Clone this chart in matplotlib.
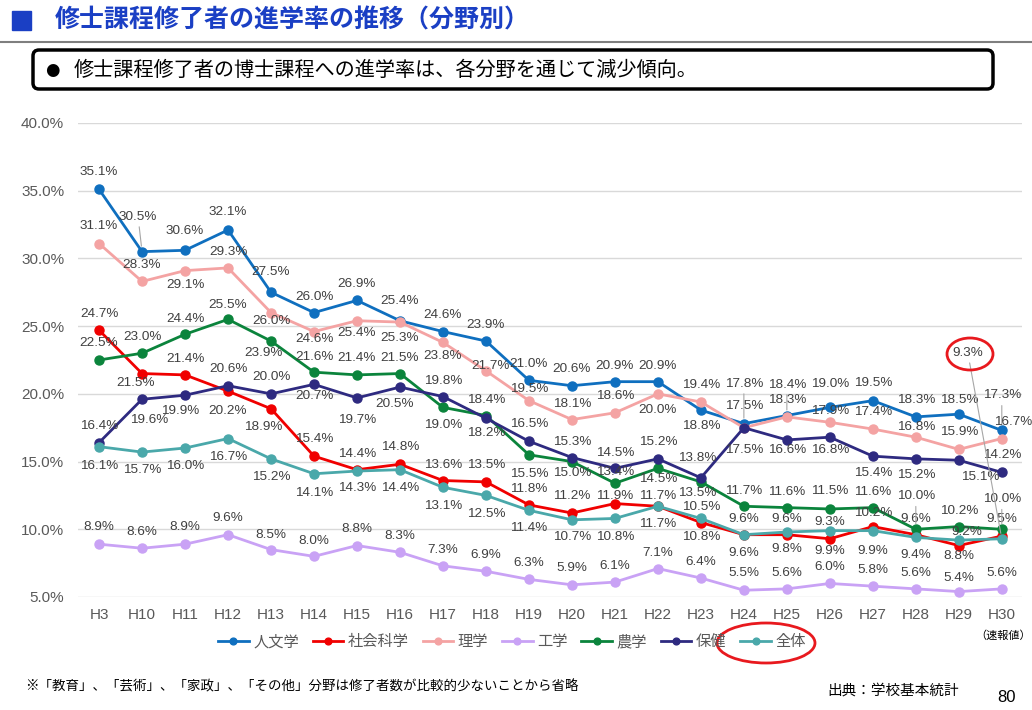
import matplotlib
matplotlib.use('Agg')
import matplotlib.pyplot as plt
from matplotlib.patches import Ellipse, FancyBboxPatch, Rectangle

plt.rcParams['font.family'] = ['Liberation Sans', 'Noto Sans CJK JP']

years = ['H3', 'H10', 'H11', 'H12', 'H13', 'H14', 'H15', 'H16', 'H17', 'H18', 'H19',
         'H20', 'H21', 'H22', 'H23', 'H24', 'H25', 'H26', 'H27', 'H28', 'H29', 'H30']

jinbun = [35.1, 30.5, 30.6, 32.1, 27.5, 26.0, 26.9, 25.4, 24.6, 23.9, 21.0,
          20.6, 20.9, 20.9, 18.8, 17.8, 18.4, 19.0, 19.5, 18.3, 18.5, 17.3]
shakai = [24.7, 21.5, 21.4, 20.2, 18.9, 15.4, 14.4, 14.8, 13.6, 13.5, 11.8,
          11.2, 11.9, 11.7, 10.5, 9.6, 9.6, 9.3, 10.2, 9.6, 8.8, 9.5]
rigaku = [31.1, 28.3, 29.1, 29.3, 26.0, 24.6, 25.4, 25.3, 23.8, 21.7, 19.5,
          18.1, 18.6, 20.0, 19.4, 17.5, 18.3, 17.9, 17.4, 16.8, 15.9, 16.7]
kougaku = [8.9, 8.6, 8.9, 9.6, 8.5, 8.0, 8.8, 8.3, 7.3, 6.9, 6.3,
           5.9, 6.1, 7.1, 6.4, 5.5, 5.6, 6.0, 5.8, 5.6, 5.4, 5.6]
nougaku = [22.5, 23.0, 24.4, 25.5, 23.9, 21.6, 21.4, 21.5, 19.0, 18.4, 15.5,
           15.0, 13.4, 14.5, 13.5, 11.7, 11.6, 11.5, 11.6, 10.0, 10.2, 10.0]
hoken = [16.4, 19.6, 19.9, 20.6, 20.0, 20.7, 19.7, 20.5, 19.8, 18.2, 16.5,
         15.3, 14.5, 15.2, 13.8, 17.5, 16.6, 16.8, 15.4, 15.2, 15.1, 14.2]
zentai = [16.1, 15.7, 16.0, 16.7, 15.2, 14.1, 14.3, 14.4, 13.1, 12.5, 11.4,
          10.7, 10.8, 11.7, 10.8, 9.6, 9.8, 9.9, 9.9, 9.4, 9.2, 9.3]

# label offsets in pixels (dy: + is downward), hand placed like the original
lab_dy = {
    '人文学': [-17, -35, -19, -18, -20, -16, -16, -20, -17, -16, -16, -17, -16, -16, 16, -40, -31, -23, -18, -17, -14, -35],
    '社会科学': [-16, 9, -16, 20, 18, -17, -16, -17, -16, -17, -16, -17, -8, -10, -16, -16, -16, -17, -14, -16, 10, -17],
    '理学': [-18, -16, 14, -16, 8, 7, 12, 16, 14, -5, -12, -16, -17, 16, -17, -22, -17, -11, -17, -10, -17, -17],
    '工学': [-17, -16, -17, -17, -15, -15, -17, -16, -16, -16, -16, -17, -16, -16, -16, -17, -16, -16, -16, -16, -14, -16],
    '農学': [-17, -16, -15, -14, 12, -15, -17, -16, 18, -16, 19, 11, -11, 11, 11, -15, -16, -18, -16, -33, -16, -30],
    '保健': [-17, 21, 16, -17, -17, 12, 22, 17, -16, 15, -17, -16, -15, -17, -20, 22, 10, 13, 17, 16, 17, -17],
    '全体': [19, 18, 18, 18, 18, 19, 17, 18, 19, 19, 18, 17, 19, 18, 19, 18, 17, 20, 20, 18, -8, -186],
}
lab_dx = {
    '人文学': {1: -4},
    '社会科学': {1: -6, 4: -8},
    '理学': {9: 5, 21: 11},
    '工学': {},
    '農学': {4: -8, 14: -4},
    '保健': {1: 7, 2: -5, 7: -5, 14: -4, 20: 21},
    '全体': {20: 8, 21: -34},
}

series = [
    ('人文学', jinbun, '#0F6FBF'),
    ('社会科学', shakai, '#F00000'),
    ('理学', rigaku, '#F4A3A3'),
    ('工学', kougaku, '#C9A2F5'),
    ('農学', nougaku, '#0B843C'),
    ('保健', hoken, '#2E2A80'),
    ('全体', zentai, '#4AA8AA'),
]

fig = plt.figure(figsize=(10.32, 7.10), dpi=100)
ax = fig.add_axes([78 / 1032, 1 - 597 / 710, (1022 - 78) / 1032, (597 - 123) / 710])
ax.set_facecolor('none')

x = list(range(len(years)))
for name, vals, col in series:
    ax.plot(x, vals, color=col, lw=2, marker='o', ms=6.5, label=name, zorder=3)
    for i, v in enumerate(vals):
        dy = lab_dy[name][i]
        dx = lab_dx[name].get(i, 0)
        arrow = None
        if abs(dy) >= 25:
            arrow = dict(arrowstyle='-', color='#A6A6A6', lw=0.8, shrinkA=1, shrinkB=4)
        ax.annotate(f'{v:.1f}%', (i, v), xytext=(dx, -dy), textcoords='offset pixels',
                    ha='center', va='center', fontsize=9.7, color='#404040',
                    arrowprops=arrow, zorder=5, annotation_clip=False)

ax.set_xlim(-0.49, 21.47)
ax.set_ylim(5, 40)
ax.set_yticks([5, 10, 15, 20, 25, 30, 35, 40])
ax.set_yticklabels([f'{t:.1f}%' for t in ax.get_yticks()])
ax.set_xticks(x)
ax.set_xticklabels(years)
ax.tick_params(length=0, labelsize=11, labelcolor='#595959')
ax.tick_params(axis='y', pad=10)
ax.tick_params(axis='x', pad=8)
ax.yaxis.grid(True, color='#D9D9D9', lw=1)
ax.set_axisbelow(True)
for s in ax.spines.values():
    s.set_visible(False)

leg = fig.legend(loc='center', bbox_to_anchor=(512 / 1032, 1 - 642 / 710), ncol=7,
                 frameon=False, fontsize=11, handlelength=2.0, handletextpad=0.3,
                 columnspacing=0.9, markerscale=0.75)
for t in leg.get_texts():
    t.set_color('#595959')

# overlay in pixel coordinates for the slide decorations
ov = fig.add_axes([0, 0, 1, 1])
ov.set_xlim(0, 1032)
ov.set_ylim(710, 0)
ov.axis('off')
ov.patch.set_visible(False)

ov.add_patch(Rectangle((12, 11), 19, 19, color='#1A3FC4'))
ov.text(55, 20, '修士課程修了者の進学率の推移（分野別）', fontsize=18, fontweight='bold',
        color='#1A3FC4', va='center', ha='left', family=['Noto Sans CJK JP'])
ov.plot([0, 1032], [42, 42], color='#7F7F7F', lw=1.5)
ov.add_patch(FancyBboxPatch((33, 50), 960, 39, boxstyle='round,pad=0,rounding_size=6',
                            fc='white', ec='black', lw=2.5))
ov.text(52, 70, '●', fontsize=12, va='center', ha='center', color='black',
        family=['DejaVu Sans'])
ov.text(74, 70, '修士課程修了者の博士課程への進学率は、各分野を通じて減少傾向。', fontsize=14.5,
        va='center', ha='left', color='black', family=['Noto Sans CJK JP'])

ov.add_patch(Ellipse((766, 643), 98, 40, fill=False, ec='#E8191E', lw=2))
ov.add_patch(Ellipse((970, 354), 46, 32, fill=False, ec='#E8191E', lw=2))

ov.text(1003, 636, '（速報値）', fontsize=8, ha='center', va='center', color='black',
        family=['Noto Sans CJK JP'])
ov.text(25, 686, '※「教育」、「芸術」、「家政」、「その他」分野は修了者数が比較的少ないことから省略',
        fontsize=9.7, ha='left', va='center', color='black', family=['Noto Sans CJK JP'])
ov.text(827, 691, '出典：学校基本統計', fontsize=10.5, ha='left', va='center', color='black',
        family=['Noto Sans CJK JP'])
ov.text(1007, 698, '80', fontsize=12, ha='center', va='center', color='black')

fig.savefig('out.png', dpi=100)
